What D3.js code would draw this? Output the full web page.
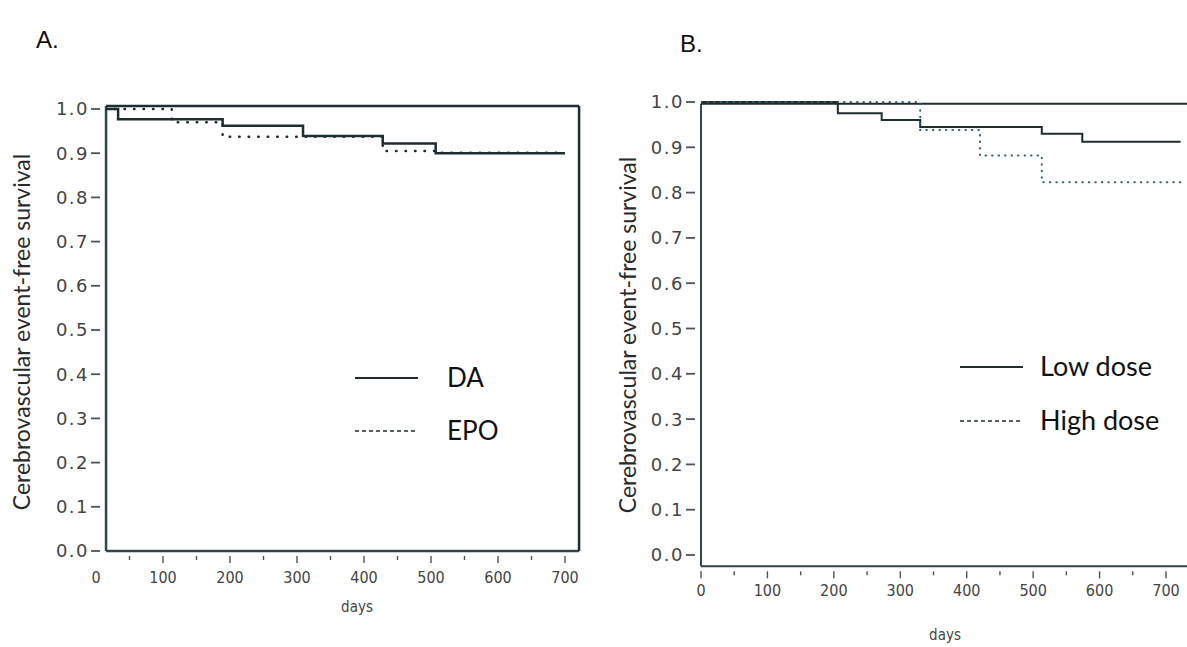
<!DOCTYPE html>
<html>
<head>
<meta charset="utf-8">
<script src="https://cdn.jsdelivr.net/npm/d3@7"></script>
<style>
  body { margin: 0; background: #fff; }
  svg { display: block; }
</style>
</head>
<body>
<div id="chart"></div>
<script>
// tick values
const dayTicks = [0, 100, 200, 300, 400, 500, 600, 700];
const dayMinorTicks = [50, 150, 250, 350, 450, 550, 650];
const survTicks = [0, 0.1, 0.2, 0.3, 0.4, 0.5, 0.6, 0.7, 0.8, 0.9, 1.0];

// panel A: DA vs EPO (step curves)
const daDays = [0, 33, 189, 309, 428, 507, 700];
const daSurv = [1.0, 0.977, 0.962, 0.939, 0.922, 0.900, 0.900];
const epoDays = [0, 113, 189, 428, 507, 700];
const epoSurv = [1.0, 0.970, 0.937, 0.905, 0.901, 0.901];

// panel B: low dose vs high dose
const lowDays = [0, 206, 272, 330, 513, 574, 722];
const lowSurv = [1.0, 0.975, 0.960, 0.945, 0.930, 0.912, 0.912];
const highDays = [0, 330, 420, 513, 722];
const highSurv = [1.0, 0.938, 0.882, 0.823, 0.823];

const W = 1187, H = 647;
const svg = d3.select("#chart").append("svg")
    .attr("width", W).attr("height", H);

const ink = "#1f2c30";
const axisInk = "#33464b";
const labInk = "#444";

function toPts(days, surv) {
    return days.map((d, i) => ({ t: d, s: surv[i] }));
}

function drawPanel(p) {
    const x = d3.scaleLinear().domain([0, 700]).range(p.xRange);
    const y = d3.scaleLinear().domain([0, 1]).range(p.yRange);
    const g = svg.append("g");

    const left = x(p.boxDays[0]), right = x(p.boxDays[1]);
    const top = y(p.boxSurv[1]), bottom = y(p.boxSurv[0]);

    // clip for the curves
    g.append("clipPath").attr("id", "clip" + p.id)
        .append("rect")
        .attr("x", left).attr("y", top - 4)
        .attr("width", right - left).attr("height", bottom - top + 4);

    // plot frame
    g.append("line").attr("x1", left).attr("x2", left).attr("y1", top).attr("y2", bottom)
        .attr("stroke", axisInk).attr("stroke-width", p.frameW);
    g.append("line").attr("x1", left).attr("x2", right).attr("y1", bottom).attr("y2", bottom)
        .attr("stroke", axisInk).attr("stroke-width", p.frameW);
    g.append("line").attr("x1", left).attr("x2", right).attr("y1", top).attr("y2", top)
        .attr("stroke", ink).attr("stroke-width", p.frameW);
    if (p.rightBorder) {
        g.append("line").attr("x1", right).attr("x2", right).attr("y1", top).attr("y2", bottom)
            .attr("stroke", ink).attr("stroke-width", p.frameW);
    }

    // y ticks (detached dashes) and labels
    const yt = g.append("g");
    yt.selectAll("line").data(survTicks).enter().append("line")
        .attr("x1", left - 15).attr("x2", left - 6)
        .attr("y1", d => y(d)).attr("y2", d => y(d))
        .attr("stroke", "#4a5558").attr("stroke-width", 1.8);
    yt.selectAll("text").data(survTicks).enter().append("text")
        .attr("x", left - 17).attr("y", d => y(d))
        .attr("dy", "0.36em")
        .attr("text-anchor", "end")
        .style("font-family", "DejaVu Sans, Verdana, sans-serif")
        .style("font-size", "18px")
        .style("letter-spacing", "1.5px")
        .style("fill", labInk)
        .text(d => d.toFixed(1));

    // x ticks below the axis
    const xt = g.append("g");
    xt.selectAll(".maj").data(dayTicks.filter(d => x(d) >= left - 1)).enter().append("line")
        .attr("x1", d => x(d)).attr("x2", d => x(d))
        .attr("y1", bottom + 5).attr("y2", bottom + 12)
        .attr("stroke", "#4a5558").attr("stroke-width", 1.4);
    xt.selectAll(".min").data(dayMinorTicks).enter().append("line")
        .attr("x1", d => x(d)).attr("x2", d => x(d))
        .attr("y1", bottom + 5).attr("y2", bottom + 9)
        .attr("stroke", "#4a5558").attr("stroke-width", 1.4);
    xt.selectAll("text").data(dayTicks).enter().append("text")
        .attr("x", d => x(d)).attr("y", bottom + p.xLabelGap)
        .attr("text-anchor", "middle")
        .style("font-family", "DejaVu Sans Condensed, DejaVu Sans, sans-serif")
        .style("font-size", "16px")
        .style("fill", labInk)
        .text(d => d);

    // axis titles
    g.append("text")
        .attr("x", p.daysPos[0]).attr("y", p.daysPos[1])
        .attr("text-anchor", "middle")
        .style("font-family", "DejaVu Sans Condensed, DejaVu Sans, sans-serif")
        .style("font-size", "15px")
        .style("fill", labInk)
        .text("days");
    g.append("text")
        .attr("transform", `translate(${p.yTitlePos[0]},${p.yTitlePos[1]}) rotate(-90)`)
        .attr("text-anchor", "middle")
        .style("font-family", "Lato, Open Sans, sans-serif")
        .style("font-size", "23px")
        .style("fill", "#2a2a2a")
        .text("Cerebrovascular event-free survival");

    // panel letter
    g.append("text")
        .attr("x", p.letterPos[0]).attr("y", p.letterPos[1])
        .style("font-family", "Liberation Sans Narrow, Liberation Sans, sans-serif")
        .style("font-size", "24px")
        .style("fill", "#111")
        .text(p.letter);

    // curves
    const line = d3.line()
        .x(d => x(d.t)).y(d => y(d.s))
        .curve(d3.curveStepAfter);
    const curves = g.append("g").attr("clip-path", `url(#clip${p.id})`);
    p.series.forEach(s => {
        curves.append("path")
            .attr("d", line(toPts(s.days, s.surv)))
            .attr("fill", "none")
            .attr("stroke", s.color)
            .attr("stroke-width", s.width)
            .attr("stroke-dasharray", s.dash || null)
            .attr("stroke-linecap", s.dash ? "round" : "butt");
    });

    // legend
    const lg = g.append("g");
    p.series.forEach((s, i) => {
        const ly = p.legend.y + i * p.legend.step;
        lg.append("line")
            .attr("x1", p.legend.x).attr("x2", p.legend.x + p.legend.len)
            .attr("y1", ly).attr("y2", ly)
            .attr("stroke", ink)
            .attr("stroke-width", s.dash ? 1.5 : 2)
            .attr("stroke-dasharray", s.dash ? "4,3" : null);
        lg.append("text")
            .attr("x", p.legend.tx).attr("y", ly)
            .attr("dy", "0.35em")
            .style("font-family", "Lato, Open Sans, sans-serif")
            .style("font-size", p.legend.fs + "px")
            .style("fill", "#111")
            .text(s.name);
    });
}

drawPanel({
    id: "A", letter: "A.", letterPos: [36, 48],
    xRange: [96, 565], yRange: [551, 109],
    boxDays: [15, 721], boxSurv: [0, 1.007],
    rightBorder: true, frameW: 2.5, xLabelGap: 32,
    daysPos: [357, 612], yTitlePos: [30, 332],
    legend: { x: 355, len: 63, tx: 447, y: 378, step: 53, fs: 26 },
    series: [
        { name: "DA", days: daDays, surv: daSurv, color: ink, width: 2.5 },
        { name: "EPO", days: epoDays, surv: epoSurv, color: ink, width: 2.5, dash: "0.5,9" }
    ]
});

drawPanel({
    id: "B", letter: "B.", letterPos: [680, 52],
    xRange: [701, 1166], yRange: [555, 102],
    boxDays: [0, 740], boxSurv: [-0.025, 0.996],
    rightBorder: false, frameW: 2, xLabelGap: 30,
    daysPos: [945, 640], yTitlePos: [636, 335],
    legend: { x: 960, len: 63, tx: 1040, y: 367, step: 54, fs: 27 },
    series: [
        { name: "Low dose", days: lowDays, surv: lowSurv, color: ink, width: 2 },
        { name: "High dose", days: highDays, surv: highSurv, color: "#2f6170", width: 2, dash: "0.5,6" }
    ]
});
</script>
</body>
</html>
